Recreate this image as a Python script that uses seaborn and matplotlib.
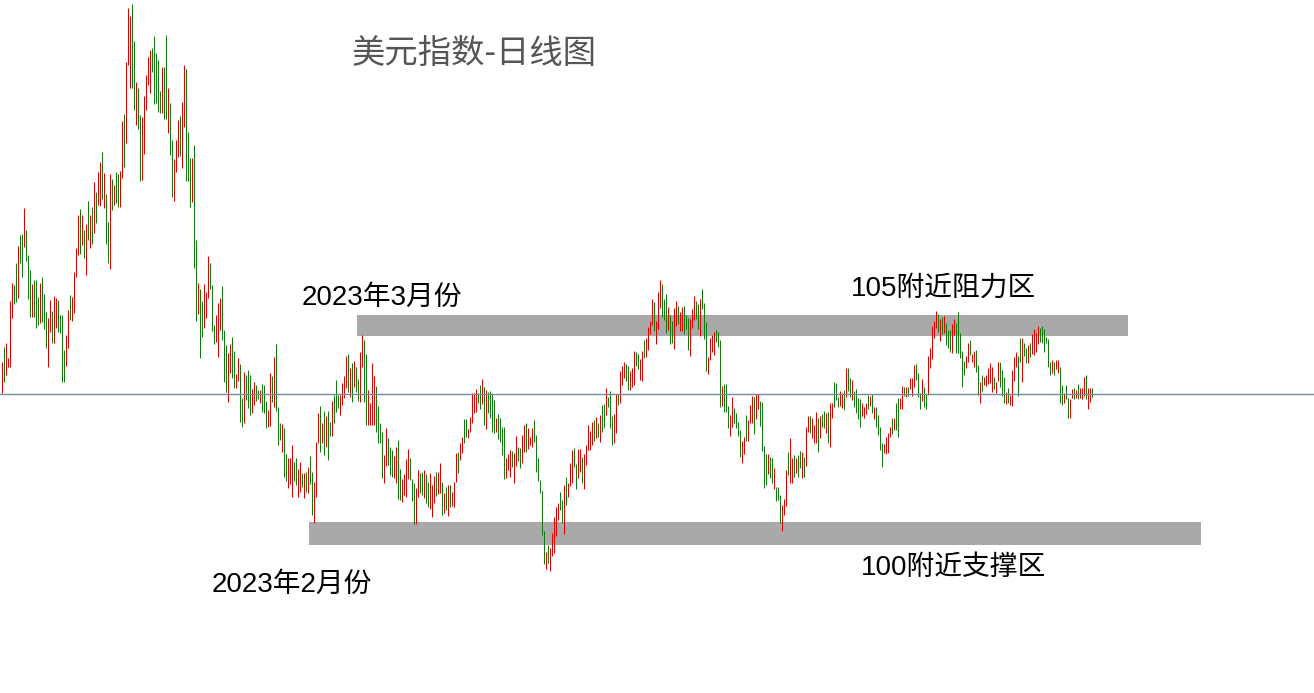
import numpy as np
import pandas as pd
import matplotlib
matplotlib.use("Agg")
import matplotlib.pyplot as plt
from matplotlib.patches import Rectangle
import seaborn as sns

# daily bars of the dollar index (high / low)
highs = [
    104.76, 105.06, 105.14, 104.84, 105.98, 106.34, 106.30, 106.74, 107.08, 107.30,
    107.32, 107.84, 107.40, 106.90, 106.60, 106.32, 106.40, 106.40, 106.06, 106.34,
    106.46, 106.12, 105.76, 105.64, 106.00, 105.78, 106.08, 106.04, 106.00, 105.70,
    105.70, 105.00, 105.30, 105.80, 106.10, 106.06, 106.56, 107.04, 107.70, 107.82,
    107.70, 107.40, 107.52, 107.98, 107.70, 107.86, 108.36, 108.16, 108.56, 108.76,
    108.96, 108.54, 108.12, 107.56, 108.52, 108.42, 108.30, 108.56, 108.52, 108.58,
    109.58, 109.72, 110.76, 111.84, 111.68, 111.92, 111.18, 110.36, 110.24, 109.70,
    109.66, 110.08, 110.50, 110.86, 111.00, 111.04, 111.28, 110.94, 110.80, 110.18,
    110.66, 110.66, 111.30, 110.24, 109.94, 109.20, 108.82, 109.20, 109.60, 109.68,
    109.96, 110.70, 110.62, 109.36, 108.84, 108.84, 109.10, 107.20, 106.34, 106.22,
    105.98, 106.32, 106.16, 106.88, 106.74, 106.30, 105.50, 105.70, 105.94, 106.04,
    106.28, 105.40, 105.10, 104.94, 105.12, 105.26, 104.98, 104.52, 104.84, 104.72,
    104.04, 104.56, 104.50, 104.60, 104.50, 104.22, 104.36, 104.30, 104.20, 104.20,
    104.32, 104.30, 103.98, 103.80, 104.54, 104.48, 104.86, 105.12, 103.86, 103.54,
    103.52, 103.44, 102.92, 102.84, 102.84, 103.10, 102.76, 102.84, 102.62, 102.76,
    102.54, 102.54, 102.56, 102.66, 102.88, 102.56, 102.36, 103.16, 103.74, 103.88,
    103.54, 103.78, 103.68, 103.78, 103.56, 103.98, 104.10, 104.40, 104.10, 104.10,
    104.34, 104.48, 104.88, 104.92, 104.64, 104.74, 104.78, 104.66, 104.42, 104.96,
    105.30, 105.20, 104.92, 104.20, 103.94, 104.74, 104.48, 104.28, 103.88, 103.54,
    103.36, 102.90, 103.44, 103.24, 103.06, 103.00, 102.88, 103.06, 103.20, 102.62,
    102.42, 102.52, 102.82, 103.02, 102.84, 102.42, 102.34, 102.24, 102.60, 102.54,
    102.56, 102.60, 102.52, 102.36, 102.54, 102.30, 102.48, 102.56, 102.56, 102.74,
    102.36, 102.14, 102.26, 102.30, 102.30, 102.16, 102.36, 102.94, 102.96, 103.14,
    103.26, 103.62, 103.62, 103.42, 103.66, 104.14, 104.14, 104.22, 104.14, 104.30,
    104.42, 104.26, 104.20, 104.16, 104.18, 104.14, 104.00, 103.64, 103.72, 103.64,
    103.46, 103.46, 102.84, 102.92, 103.00, 102.98, 102.94, 103.28, 103.06, 103.04,
    103.30, 103.50, 103.54, 103.44, 103.26, 103.44, 103.60, 103.30, 102.84, 102.40,
    102.18, 101.38, 100.96, 101.10, 101.04, 101.34, 101.66, 101.86, 101.94, 102.16,
    102.00, 102.30, 102.46, 102.34, 102.74, 103.00, 103.04, 102.72, 103.02, 103.02,
    102.86, 102.92, 103.10, 103.50, 103.38, 103.56, 103.60, 103.66, 103.54, 103.70,
    103.90, 103.92, 104.24, 104.06, 104.18, 103.68, 103.72, 104.12, 104.12, 104.58,
    104.68, 104.76, 104.72, 104.68, 104.58, 104.64, 104.98, 104.96, 104.92, 104.82,
    104.98, 105.20, 105.24, 105.46, 105.58, 106.02, 105.96, 105.58, 106.16, 106.40,
    106.32, 106.02, 106.12, 105.86, 105.70, 105.58, 105.84, 105.98, 105.88, 105.76,
    105.86, 105.88, 105.70, 105.64, 105.62, 105.82, 106.08, 105.98, 105.92, 106.02,
    106.22, 105.94, 105.56, 104.86, 105.24, 105.30, 105.36, 105.40, 105.36, 105.20,
    104.28, 104.32, 104.32, 103.88, 103.70, 104.06, 103.84, 103.74, 103.56, 103.40,
    103.18, 103.26, 103.70, 103.60, 103.90, 104.08, 104.06, 104.12, 104.12, 103.98,
    103.96, 103.08, 102.92, 102.92, 102.86, 102.84, 102.64, 102.26, 102.26, 102.10,
    101.90, 102.02, 102.60, 102.96, 103.24, 102.84, 102.90, 102.84, 102.90, 102.98,
    102.96, 102.86, 103.46, 103.68, 103.68, 103.64, 103.50, 103.76, 103.64, 103.68,
    103.72, 103.78, 103.74, 103.76, 103.94, 103.94, 104.36, 104.34, 104.06, 104.18,
    104.14, 104.20, 104.64, 104.64, 104.44, 104.40, 104.18, 104.22, 104.04, 104.02,
    103.94, 103.86, 103.94, 104.10, 104.08, 104.12, 103.86, 103.86, 103.70, 103.46,
    103.14, 103.12, 103.26, 103.34, 103.46, 103.64, 103.64, 103.94, 104.04, 104.04,
    104.28, 104.26, 104.26, 104.26, 104.44, 104.44, 104.70, 104.72, 104.54, 104.14,
    104.42, 104.26, 104.12, 104.88, 105.04, 105.48, 105.58, 105.78, 105.72, 105.62,
    105.66, 105.68, 105.54, 105.40, 105.40, 105.52, 105.62, 105.54, 105.76, 105.34,
    104.98, 104.78, 104.88, 105.14, 105.20, 104.92, 104.98, 105.00, 104.70, 104.36,
    104.50, 104.46, 104.50, 104.64, 104.74, 104.66, 104.46, 104.36, 104.76, 104.76,
    104.60, 104.46, 104.16, 104.24, 104.10, 104.60, 104.86, 104.96, 104.88, 105.24,
    105.24, 105.14, 105.04, 105.10, 105.14, 105.32, 105.42, 105.34, 105.48, 105.44,
    105.48, 105.42, 105.26, 105.22, 104.76, 104.80, 104.76, 104.80, 104.80, 104.66,
    104.30, 104.14, 104.30, 104.04, 104.02, 104.22, 104.24, 104.20, 104.32, 104.24,
    104.24, 104.46, 104.50, 104.24, 104.24, 104.24,
]

lows = [
    104.14, 104.36, 104.50, 104.66, 104.66, 105.64, 105.92, 105.96, 106.04, 106.74,
    106.46, 107.06, 106.78, 106.02, 105.66, 105.66, 105.66, 105.44, 105.50, 105.54,
    105.56, 105.42, 105.04, 104.66, 105.36, 105.14, 105.14, 105.44, 105.36, 105.34,
    104.36, 104.36, 104.68, 105.04, 105.60, 105.58, 105.74, 106.46, 106.90, 106.92,
    107.10, 106.84, 106.50, 107.20, 107.04, 107.12, 107.34, 107.54, 107.90, 107.88,
    108.02, 107.84, 107.12, 106.74, 106.62, 107.80, 107.90, 107.94, 107.86, 107.86,
    108.44, 108.66, 109.14, 110.70, 110.24, 110.24, 109.80, 109.50, 109.42, 108.38,
    108.40, 108.92, 109.80, 110.30, 110.14, 110.56, 109.92, 109.94, 109.76, 109.74,
    109.74, 109.62, 109.62, 109.34, 108.90, 108.06, 107.98, 108.56, 108.86, 108.88,
    108.64, 109.46, 108.38, 108.38, 107.86, 107.96, 106.64, 105.58, 105.72, 104.84,
    105.26, 105.44, 105.64, 106.04, 106.22, 105.38, 105.12, 105.16, 104.86, 105.40,
    105.20, 104.36, 104.16, 103.96, 104.54, 104.44, 104.24, 104.24, 104.38, 103.56,
    103.46, 103.54, 104.00, 103.84, 103.70, 103.74, 103.90, 103.98, 104.02, 103.94,
    103.76, 103.74, 103.44, 103.46, 103.48, 103.96, 103.86, 103.78, 103.10, 103.20,
    102.96, 102.46, 102.38, 102.24, 102.32, 102.06, 102.38, 102.30, 102.06, 102.16,
    102.26, 102.04, 102.16, 102.14, 102.32, 101.70, 101.54, 102.06, 103.14, 102.96,
    103.14, 102.90, 103.06, 102.80, 103.28, 103.28, 103.54, 103.76, 103.84, 103.70,
    103.90, 104.04, 104.24, 104.16, 104.06, 103.96, 104.26, 104.16, 103.98, 103.96,
    104.66, 103.96, 103.50, 103.50, 103.50, 103.50, 103.50, 103.36, 103.14, 103.14,
    102.44, 102.34, 102.68, 102.70, 102.50, 102.46, 102.44, 102.34, 102.02, 102.00,
    101.96, 102.10, 102.06, 102.42, 102.40, 101.98, 101.52, 101.52, 102.06, 102.14,
    102.10, 102.04, 101.94, 101.86, 101.82, 101.66, 101.94, 102.08, 102.12, 102.14,
    101.70, 101.74, 101.80, 101.68, 101.86, 101.88, 101.86, 102.36, 102.54, 102.80,
    102.94, 103.14, 103.26, 103.24, 103.36, 103.54, 103.74, 103.76, 103.94, 103.82,
    103.92, 103.50, 103.42, 103.74, 103.64, 103.36, 103.34, 103.36, 103.22, 103.16,
    102.90, 102.42, 102.44, 102.60, 102.46, 102.66, 102.34, 102.68, 102.78, 102.64,
    102.74, 102.96, 102.96, 103.02, 103.10, 103.06, 103.16, 102.56, 102.38, 102.14,
    101.30, 100.72, 100.62, 100.74, 100.58, 100.88, 100.94, 101.28, 101.60, 101.80,
    101.54, 101.32, 101.90, 102.06, 102.28, 102.34, 102.66, 102.22, 102.44, 102.56,
    102.34, 102.22, 102.70, 103.00, 103.00, 103.10, 103.18, 103.24, 103.26, 103.16,
    103.36, 103.44, 103.70, 103.86, 103.44, 103.10, 103.14, 103.34, 103.90, 103.94,
    104.30, 104.44, 104.38, 104.20, 104.20, 104.26, 104.30, 104.68, 104.62, 104.40,
    104.38, 104.84, 104.86, 105.00, 105.32, 105.50, 105.38, 105.12, 105.42, 105.84,
    105.66, 105.60, 105.34, 105.40, 105.12, 105.14, 105.02, 105.48, 105.52, 105.38,
    105.38, 105.32, 105.42, 105.00, 104.88, 105.44, 105.60, 105.62, 105.42, 105.28,
    105.82, 105.22, 104.58, 104.52, 104.80, 104.96, 104.90, 105.16, 105.06, 103.86,
    103.88, 103.76, 103.76, 103.44, 103.28, 103.46, 103.54, 103.44, 103.28, 102.86,
    102.74, 102.92, 103.18, 103.18, 103.54, 103.54, 103.32, 103.62, 103.82, 103.48,
    102.98, 102.24, 102.30, 102.52, 102.44, 102.34, 102.22, 101.98, 102.00, 101.54,
    101.38, 101.70, 101.88, 102.50, 102.34, 102.34, 102.46, 102.54, 102.46, 102.64,
    102.44, 102.46, 102.68, 103.36, 103.34, 103.24, 103.14, 103.14, 102.96, 103.24,
    103.46, 103.44, 103.34, 103.14, 103.06, 103.64, 103.86, 104.00, 103.86, 103.88,
    103.84, 103.80, 104.06, 104.18, 104.06, 104.00, 103.86, 103.74, 103.62, 103.46,
    103.68, 103.64, 103.72, 103.82, 103.88, 103.74, 103.62, 103.46, 103.30, 103.00,
    102.66, 102.94, 102.92, 102.94, 103.26, 103.32, 103.40, 103.40, 103.26, 103.82,
    103.82, 104.08, 104.06, 104.08, 104.22, 104.08, 104.26, 104.40, 104.06, 103.82,
    103.98, 103.86, 103.82, 104.10, 104.64, 104.82, 105.24, 105.44, 105.36, 105.18,
    105.32, 105.34, 105.10, 105.04, 104.96, 104.94, 105.30, 104.94, 104.94, 104.84,
    104.26, 104.50, 104.64, 104.76, 104.90, 104.76, 104.66, 104.56, 104.10, 103.94,
    104.18, 104.30, 104.28, 104.32, 104.34, 104.16, 104.22, 104.14, 104.38, 104.26,
    104.08, 103.94, 103.92, 103.94, 103.90, 103.88, 104.38, 104.66, 104.08, 104.76,
    104.36, 104.88, 104.74, 104.74, 104.86, 104.92, 104.90, 104.96, 105.12, 105.16,
    105.14, 104.96, 105.14, 104.66, 104.50, 104.54, 104.50, 104.62, 104.54, 103.94,
    103.90, 103.94, 104.02, 103.64, 103.64, 104.04, 104.02, 104.04, 104.02, 104.04,
    104.02, 104.08, 104.02, 103.82, 103.96, 104.06,
]

# r = up day (red), g = down day (green)
bar_dir = "".join([
    "rgrrrrggrg", "grgggrgggr", "gggrrgrrgg", "ggrrgrrrrg", "rgrgrgrgrr",
    "grggrgrggr", "rgrrrggrgg", "rrrrrggggg", "rggrggrrrg", "rrgggrggrg",
    "grrrgggrrr", "gggrrggrrg", "grgggrrggr", "gggrrgrggg", "rggrrrggrr",
    "grgrggrrrg", "rgrggrgggr", "rrrgrgrggr", "rggrrrrggg", "grrgggrrgg",
    "rrrrgggrrg", "grggrrrgrr", "grgrgrrrgr", "rggrrrrrgg", "rgrggggrgg",
    "ggrrrgrrgg", "rrgrrrgggg", "ggrgrrrrrg", "grgrrrggrr", "grrrrrgrgr",
    "ggrgggrrgr", "rrggrrrggr", "rgrrrrgrrr", "gggrggrrgr", "rgggrrrggr",
    "gggrrrrggg", "rgggrrgggg", "rrgrrrgrrg", "gggrggrggg", "rrrgrrgrgg",
    "rgrrgrrrgr", "ggrgrrgggr", "rgrggrgggg", "rrrgrgrggg", "grrrrgrggr",
    "rgrgrrrggg", "rggrrrrrgr", "grgggrrggg", "ggrrgrrggr", "grrrrrgrrg",
    "ggrgrrrrgg", "rggrgrrrrg", "gggggrgrrg", "grggrrgrgr", "rrgrrg",
])

title = "美元指数-日线图"
notes = ["2023年3月份", "2023年2月份", "105附近阻力区", "100附近支撑区"]

df = pd.DataFrame({"high": highs, "low": lows, "dir": list(bar_dir)})
df["bar"] = np.arange(1, len(df) + 1)
df["color"] = df["dir"].map({"r": "#e00000", "g": "#117a11"})

sns.set_theme(style="white")
plt.rcParams["font.family"] = ["Liberation Sans", "Noto Sans CJK SC", "DejaVu Sans"]

fig = plt.figure(figsize=(13.14, 6.93), dpi=100)
ax = fig.add_axes([0, 0, 1, 1])
ax.set_xlim(0.15, 657.15)
ax.set_ylim(98.14, 112.0)
ax.set_axis_off()

# resistance / support zones
ax.add_patch(Rectangle((178.5, 105.27), 385.65, 0.42, color="#a9a9a9", lw=0, zorder=1))
ax.add_patch(Rectangle((154.65, 101.09), 445.85, 0.46, color="#a9a9a9", lw=0, zorder=1))

ax.vlines(df["bar"], df["low"], df["high"], colors=df["color"], lw=0.72, zorder=2)
ax.axhline(104.12, color="#778899", lw=1.0, zorder=3)

fig.text(474 / 1314, 1 - 53 / 693, title, ha="center", va="center",
         fontsize=24, color="#555555", family=["Noto Sans CJK SC"])

fs = 20
fig.text(302 / 1314, 1 - 305 / 693, notes[0], fontsize=fs, color="black", va="baseline")
fig.text(212 / 1314, 1 - 592 / 693, notes[1], fontsize=fs, color="black", va="baseline")
fig.text(851 / 1314, 1 - 296 / 693, notes[2], fontsize=fs, color="black", va="baseline")
fig.text(861 / 1314, 1 - 575 / 693, notes[3], fontsize=fs, color="black", va="baseline")

fig.savefig("out.png", dpi=100, facecolor="white")
plt.close(fig)
